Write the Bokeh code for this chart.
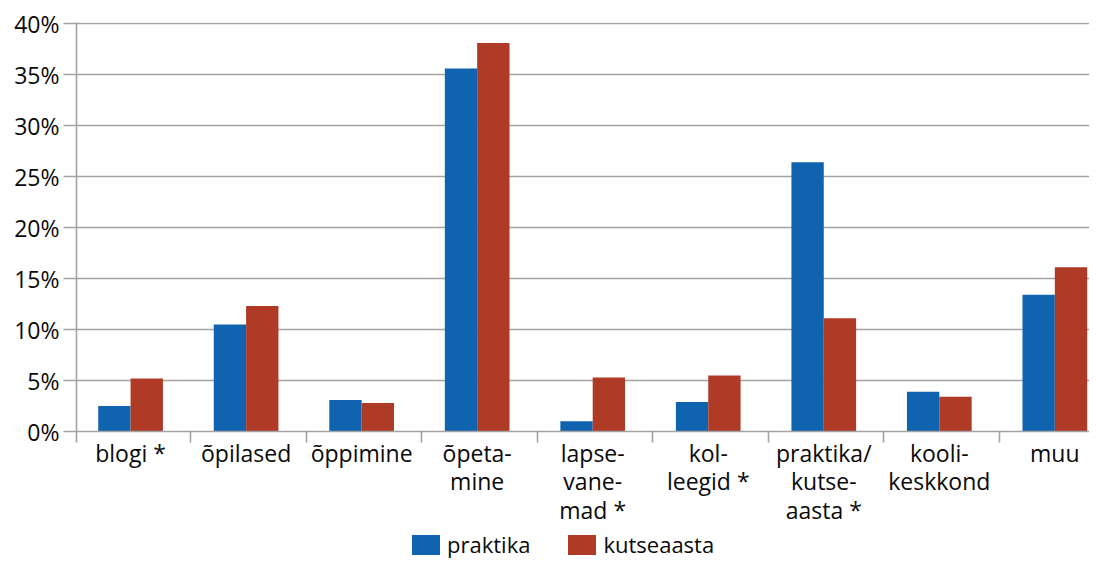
from bokeh.plotting import figure
from bokeh.layouts import column
from bokeh.models import (ColumnDataSource, FixedTicker, PrintfTickFormatter, Legend,
                          LegendItem, Range1d)
from bokeh.embed import file_html
from bokeh.resources import INLINE

categories = ["blogi *", "õpilased", "õppimine", "õpeta-\nmine", "lapse-\nvane-\nmad *",
              "kol-\nleegid *", "praktika/\nkutse-\naasta *", "kooli-\nkeskkond", "muu"]
praktika = [2.5, 10.5, 3.1, 35.6, 1.0, 2.9, 26.4, 3.9, 13.4]
kutseaasta = [5.2, 12.3, 2.8, 38.1, 5.3, 5.5, 11.1, 3.4, 16.1]
series_names = ["praktika", "kutseaasta"]
y_ticks = [0, 5, 10, 15, 20, 25, 30, 35, 40]

BLUE = "#1063AF"
RED = "#AF3A26"
GRID = "#a3a3a3"
TEXT = "#0a0a0a"
FONT = "Open Sans"
FS = "23px"

idx = list(range(len(categories)))
bw = 0.28
src = ColumnDataSource(dict(
    xb=[i - bw / 2 for i in idx], xr=[i + bw / 2 for i in idx],
    praktika=praktika, kutseaasta=kutseaasta))

P_H = 529
Q_H = 559 - P_H

p = figure(width=1089, height=P_H, output_backend="svg", toolbar_location=None,
           x_range=Range1d(-0.468, 8.30), y_range=Range1d(0, 40.1),
           min_border_left=76, min_border_right=0, min_border_top=22,
           min_border_bottom=P_H - 432)
p.outline_line_color = None
p.background_fill_color = "white"

p.vbar(x="xb", top="praktika", width=bw, source=src, fill_color=BLUE, line_color=None)
p.vbar(x="xr", top="kutseaasta", width=bw, source=src, fill_color=RED, line_color=None)

# x axis
xa = p.xaxis[0]
xa.ticker = FixedTicker(ticks=idx, minor_ticks=[-0.468] + [i + 0.52 for i in idx[:-1]])
xa.major_label_overrides = {i: c for i, c in enumerate(categories)}
xa.major_tick_out = 0
xa.major_tick_in = 0
xa.minor_tick_out = 11
xa.minor_tick_in = 0
xa.minor_tick_line_color = GRID
xa.minor_tick_line_width = 1.6
xa.axis_line_color = GRID
xa.axis_line_width = 1.6
xa.major_label_standoff = -6
xa.major_label_text_font = FONT
xa.major_label_text_font_size = FS
xa.major_label_text_color = TEXT
xa.major_label_text_line_height = 0.9

# y axis
ya = p.yaxis[0]
ya.ticker = FixedTicker(ticks=y_ticks, minor_ticks=[])
ya.formatter = PrintfTickFormatter(format="%d%%")
ya.major_tick_out = 13
ya.major_tick_in = 0
ya.major_tick_line_color = GRID
ya.major_tick_line_width = 1.6
ya.axis_line_color = GRID
ya.axis_line_width = 1.6
ya.major_label_standoff = 4
ya.major_label_text_font = FONT
ya.major_label_text_font_size = FS
ya.major_label_text_color = TEXT

p.xgrid.visible = False
p.ygrid.ticker = FixedTicker(ticks=y_ticks)
p.ygrid.grid_line_color = GRID
p.ygrid.grid_line_width = 1.6

# legend strip (its renderers sit outside the visible range; only the legend shows)
q = figure(width=1089, height=Q_H, output_backend="svg", toolbar_location=None,
           x_range=Range1d(0, 1), y_range=Range1d(0, 1),
           x_axis_location=None, y_axis_location=None,
           min_border_left=0, min_border_right=0, min_border_top=0, min_border_bottom=0)
q.outline_line_color = None
q.xgrid.visible = False
q.ygrid.visible = False
lb = q.vbar(x=[-5], top=[-5], width=0.1, fill_color=BLUE, line_color=None)
lr = q.vbar(x=[-5], top=[-5], width=0.1, fill_color=RED, line_color=None)
legend = Legend(items=[LegendItem(label=series_names[0], renderers=[lb]),
                       LegendItem(label=series_names[1], renderers=[lr])],
                orientation="horizontal", location=(332, 0),
                glyph_width=35, glyph_height=25, label_standoff=4, spacing=34,
                padding=0, margin=0, border_line_color=None, background_fill_alpha=0,
                label_text_font=FONT, label_text_font_size="22px",
                label_text_color=TEXT, label_height=20)
q.add_layout(legend, "center")

layout = column(p, q, spacing=0)
open("out.html", "w").write(file_html(layout, INLINE))
